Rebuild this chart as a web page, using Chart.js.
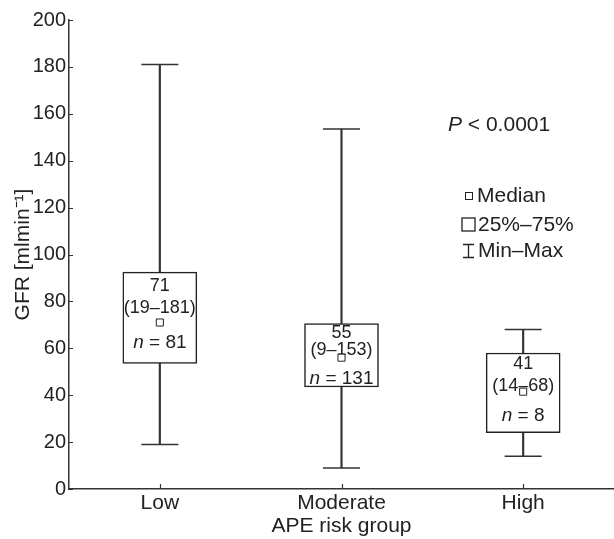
<!DOCTYPE html>
<html>
<head>
<meta charset="utf-8">
<script src="https://cdn.jsdelivr.net/npm/chart.js@4/dist/chart.umd.min.js"></script>
<style>
  html, body { margin: 0; padding: 0; background: #fff; }
  #wrap { width: 614px; height: 539px; }
</style>
</head>
<body>
<div id="wrap"><canvas id="c"></canvas></div>
<script>
// ---- data ----
const groups = ['Low', 'Moderate', 'High'];
const minVals = [19, 9, 14];
const q1Vals = [53.5, 43.5, 24];
const medianVals = [71, 56, 41.5];
const q3Vals = [92.5, 70.5, 58];
const maxVals = [181, 153.5, 68];
const medianLabels = ['71', '55', '41'];
const rangeLabels = ['(19–181)', '(9–153)', '(14–68)'];
const nLabels = ['81', '131', '8'];
const yTicks = [0, 20, 40, 60, 80, 100, 120, 140, 160, 180, 200];

const INK = '#222';
const LINE = '#333';
const FONT = '"Liberation Sans", Arial, Helvetica, sans-serif';

// text rows inside each box, px below the box top (q3)
const textRows = [[14, 36, 71], [9, 26, 55], [11, 33, 63]];

const boxText = {
  id: 'boxText',
  beforeDatasetDraw(chart, args) {
    if (args.index !== 0) return;   // draw right before the median markers
    const { ctx, scales: { x, y } } = chart;
    ctx.save();
    ctx.fillStyle = INK;
    ctx.textAlign = 'center';
    ctx.textBaseline = 'middle';
    groups.forEach((g, i) => {
      const cx = x.getPixelForValue(i);
      const top = y.getPixelForValue(q3Vals[i]);
      const r = textRows[i];
      ctx.font = '18px ' + FONT;
      ctx.fillText(medianLabels[i], cx, top + r[0]);
      ctx.fillText(rangeLabels[i], cx, top + r[1]);
      // "n = 81" with italic n
      ctx.font = 'italic 19px ' + FONT;
      const wn = ctx.measureText('n').width;
      ctx.font = '19px ' + FONT;
      const rest = ' = ' + nLabels[i];
      const wr = ctx.measureText(rest).width;
      const sx = cx - (wn + wr) / 2;
      ctx.textAlign = 'left';
      ctx.font = 'italic 19px ' + FONT;
      ctx.fillText('n', sx, top + r[2]);
      ctx.font = '19px ' + FONT;
      ctx.fillText(rest, sx + wn, top + r[2]);
      ctx.textAlign = 'center';
    });
    ctx.restore();
  }
};

const axisDecor = {
  id: 'axisDecor',
  afterDraw(chart) {
    const { ctx, chartArea: a, scales: { x, y } } = chart;
    ctx.save();
    ctx.strokeStyle = LINE;
    ctx.lineWidth = 1.2;
    // inward tick marks
    ctx.beginPath();
    y.ticks.forEach(t => {
      const py = Math.round(y.getPixelForValue(t.value)) + 0.5;
      ctx.moveTo(a.left, py); ctx.lineTo(a.left + 4, py);
    });
    groups.forEach((g, i) => {
      const px = Math.round(x.getPixelForValue(i)) + 0.5;
      ctx.moveTo(px, a.bottom); ctx.lineTo(px, a.bottom - 5);
    });
    ctx.stroke();

    // P value
    ctx.fillStyle = INK;
    ctx.textBaseline = 'middle';
    ctx.textAlign = 'left';
    ctx.font = 'italic 21px ' + FONT;
    const px0 = 448, py0 = 125;
    ctx.fillText('P', px0, py0);
    const wp = ctx.measureText('P').width;
    ctx.font = '21px ' + FONT;
    ctx.fillText(' < 0.0001', px0 + wp, py0);

    // legend
    ctx.lineWidth = 1;
    ctx.strokeStyle = INK;
    ctx.fillStyle = '#fff';
    ctx.fillRect(465, 192.5, 7, 7);
    ctx.strokeRect(465.5, 192.5, 7, 7);
    ctx.lineWidth = 1.3;
    ctx.strokeRect(462, 218, 13, 13);
    ctx.beginPath();
    ctx.moveTo(468.5, 244.5); ctx.lineTo(468.5, 257.5);
    ctx.moveTo(463, 244.5); ctx.lineTo(474, 244.5);
    ctx.moveTo(463, 257.5); ctx.lineTo(474, 257.5);
    ctx.stroke();
    ctx.fillStyle = INK;
    ctx.font = '21px ' + FONT;
    ctx.fillText('Median', 477, 196);
    ctx.fillText('25%–75%', 478, 225);
    ctx.fillText('Min–Max', 478, 251.5);
    ctx.restore();
  }
};

new Chart(document.getElementById('c'), {
  type: 'bar',
  data: {
    labels: groups,
    datasets: [
      {
        type: 'line',
        label: 'Median',
        data: medianVals,
        showLine: false,
        pointStyle: 'rect',
        pointRadius: 5,
        backgroundColor: '#fff',
        borderColor: INK,
        borderWidth: 1,
        order: 0,
      },
      {
        label: '25%–75%',
        data: q1Vals.map((v, i) => [v, q3Vals[i]]),
        backgroundColor: '#fff',
        borderColor: INK,
        borderWidth: 1.5,
        borderSkipped: false,
        barThickness: 74,
        grouped: false,
        order: 1,
      },
      {
        label: 'Min–Max',
        data: minVals.map((v, i) => [v, maxVals[i]]),
        backgroundColor: LINE,
        borderWidth: 0,
        barThickness: 1.5,
        grouped: false,
        order: 2,
      },
      {
        type: 'line',
        label: 'Min',
        data: minVals,
        showLine: false,
        pointStyle: 'line',
        pointRadius: 18.5,
        borderColor: LINE,
        borderWidth: 1.5,
        order: 3,
      },
      {
        type: 'line',
        label: 'Max',
        data: maxVals,
        showLine: false,
        pointStyle: 'line',
        pointRadius: 18.5,
        borderColor: LINE,
        borderWidth: 1.5,
        order: 3,
      },
    ]
  },
  options: {
    responsive: true,
    maintainAspectRatio: false,
    animation: false,
    layout: { autoPadding: false, padding: { top: 20, right: 0, left: 0, bottom: 0 } },
    plugins: { legend: { display: false }, tooltip: { enabled: false } },
    scales: {
      x: {
        offset: true,
        grid: { display: false, drawTicks: false },
        border: { display: true, color: LINE, width: 1.5 },
        ticks: { color: INK, padding: 2, font: { family: FONT, size: 21 } },
        title: {
          display: true,
          text: 'APE risk group',
          color: INK,
          padding: { top: 0, bottom: 0 },
          font: { family: FONT, size: 21 },
        },
        afterFit: s => { s.height = 50; },
      },
      y: {
        min: 0,
        max: 200,
        afterBuildTicks: s => { s.ticks = yTicks.map(v => ({ value: v })); },
        grid: { display: false, drawTicks: false },
        border: { display: true, color: LINE, width: 1.5 },
        ticks: { color: INK, padding: 3, font: { family: FONT, size: 20 } },
        title: {
          display: true,
          text: 'GFR [mlmin⁻¹]',
          color: INK,
          padding: { top: 11, bottom: 0 },
          font: { family: FONT, size: 21 },
        },
        afterFit: s => { s.width = 69; },
      }
    }
  },
  plugins: [boxText, axisDecor]
});
</script>
</body>
</html>
